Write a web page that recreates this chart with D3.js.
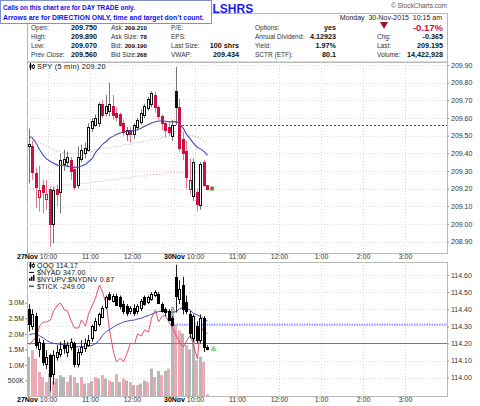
<!DOCTYPE html>
<html>
<head>
<meta charset="utf-8">
<script src="https://cdn.jsdelivr.net/npm/d3@7"></script>
<style>
body { margin: 0; background: #fff; }
svg text { font-family: "Liberation Sans", Arial, sans-serif; }
</style>
</head>
<body>
<div id="chart"></div>
<script>
// 5 min bars: 27Nov (half day, 42 bars) + 30Nov up to 10:15 (10 bars), 120 slots on the axis
var spyOpen  = [209.44,209.44,209.29,209.15,209.22,209.14,209.20,209.00,209.20,209.18,209.34,209.35,209.36,209.31,209.22,209.37,209.40,209.42,209.54,209.56,209.57,209.68,209.63,209.64,209.67,209.63,209.62,209.57,209.51,209.53,209.51,209.55,209.58,209.62,209.66,209.68,209.73,209.66,209.61,209.57,209.55,209.50,
                209.75,209.66,209.48,209.41,209.20,209.16,209.18,209.11,209.35,209.22];
var spyHigh  = [209.54,209.47,209.32,209.33,209.25,209.25,209.21,209.21,209.22,209.40,209.42,209.41,209.38,209.33,209.44,209.45,209.46,209.57,209.60,209.62,209.69,209.70,209.73,209.80,209.73,209.66,209.63,209.59,209.55,209.55,209.57,209.60,209.65,209.68,209.72,209.75,209.75,209.67,209.62,209.58,209.57,209.59,
                209.89,209.71,209.52,209.47,209.37,209.37,209.20,209.35,209.36,209.22];
var spyLow   = [209.23,209.25,209.09,209.07,209.06,209.08,208.87,208.89,209.10,209.06,209.30,209.32,209.25,209.19,209.20,209.35,209.37,209.41,209.52,209.55,209.55,209.60,209.61,209.61,209.59,209.58,209.55,209.50,209.47,209.46,209.48,209.53,209.56,209.60,209.64,209.66,209.63,209.59,209.53,209.49,209.50,209.47,
                209.56,209.41,209.36,209.20,209.17,209.13,209.07,209.08,209.21,209.19];
var spyClose = [209.45,209.29,209.21,209.19,209.18,209.17,209.00,209.19,209.17,209.36,209.37,209.38,209.30,209.21,209.38,209.42,209.43,209.55,209.58,209.60,209.68,209.62,209.67,209.68,209.62,209.61,209.56,209.52,209.53,209.51,209.56,209.59,209.63,209.67,209.71,209.74,209.66,209.61,209.57,209.53,209.52,209.56,
                209.66,209.43,209.40,209.26,209.25,209.35,209.11,209.34,209.22,209.20];
var spyMA    = [209.497,209.486,209.454,209.421,209.386,209.368,209.353,209.343,209.333,209.331,209.329,209.327,209.322,209.319,209.322,209.328,209.337,209.352,209.372,209.405,209.430,209.450,209.468,209.485,209.497,209.508,209.515,209.522,209.525,209.528,209.530,209.533,209.543,209.553,209.563,209.572,209.579,209.583,209.583,209.581,209.578,209.578,
                209.579,209.565,209.540,209.507,209.480,209.456,209.433,209.425,209.408,209.388];
var spyMA2   = [209.49,209.48,209.47,209.46,209.45,209.44,209.43,209.42,209.41,209.41,209.40,209.40,209.40,209.40,209.40,209.40,209.40,209.41,209.41,209.42,209.42,209.43,209.43,209.43,209.44,209.44,209.44,209.45,209.45,209.45,209.46,209.46,209.46,209.47,209.47,209.48,209.48,209.48,209.49,209.49,209.50,209.50,
                209.53,209.53,209.52,209.51,209.50,209.50,209.49,209.48,209.47,209.46];
var spyMA3   = [209.20,209.20,209.20,209.20,209.21,209.21,209.21,209.21,209.21,209.22,209.22,209.22,209.22,209.22,209.23,209.23,209.23,209.23,209.24,209.24,209.24,209.24,209.25,209.25,209.25,209.25,209.26,209.26,209.26,209.26,209.27,209.27,209.27,209.27,209.28,209.28,209.28,209.28,209.28,209.29,209.29,209.29,
                209.29,209.29,209.29,209.29,209.29,209.29,209.29,209.29,209.29,209.29];
var spyPrevClose = 209.56;

var qqqOpen  = [114.40,114.30,114.36,114.17,114.20,114.08,114.13,114.02,114.12,114.14,114.19,114.15,114.18,114.20,114.08,114.15,114.17,114.19,114.23,114.28,114.31,114.36,114.41,114.49,114.45,114.48,114.47,114.43,114.42,114.39,114.41,114.39,114.41,114.47,114.44,114.46,114.48,114.49,114.43,114.40,114.39,114.35,
                114.59,114.46,114.54,114.44,114.37,114.23,114.30,114.22,114.35,114.18];
var qqqHigh  = [114.43,114.40,114.38,114.23,114.22,114.16,114.14,114.16,114.19,114.21,114.22,114.21,114.23,114.21,114.17,114.22,114.23,114.25,114.31,114.35,114.38,114.42,114.48,114.50,114.49,114.49,114.48,114.45,114.43,114.42,114.43,114.43,114.46,114.48,114.48,114.50,114.51,114.50,114.44,114.41,114.40,114.36,
                114.66,114.57,114.59,114.48,114.39,114.37,114.33,114.37,114.36,114.19];
var qqqLow   = [114.27,114.28,114.17,114.12,114.07,114.05,113.92,113.96,114.10,114.12,114.14,114.12,114.16,114.06,114.06,114.13,114.15,114.18,114.21,114.27,114.30,114.35,114.40,114.45,114.44,114.42,114.40,114.37,114.36,114.37,114.36,114.37,114.39,114.42,114.43,114.45,114.47,114.43,114.38,114.36,114.33,114.30,
                114.38,114.43,114.37,114.37,114.23,114.21,114.20,114.20,114.15,114.16];
var qqqClose = [114.31,114.37,114.19,114.21,114.09,114.12,114.01,114.13,114.15,114.17,114.17,114.19,114.21,114.08,114.15,114.18,114.20,114.22,114.30,114.33,114.37,114.41,114.47,114.46,114.48,114.43,114.42,114.39,114.38,114.41,114.38,114.42,114.45,114.43,114.47,114.49,114.50,114.44,114.39,114.38,114.34,114.31,
                114.48,114.52,114.40,114.39,114.26,114.36,114.22,114.35,114.18,114.17];
var qqqMA    = [114.250,114.257,114.255,114.245,114.232,114.218,114.206,114.201,114.197,114.195,114.192,114.191,114.187,114.181,114.181,114.181,114.181,114.185,114.189,114.199,114.220,114.248,114.271,114.280,114.296,114.307,114.317,114.325,114.331,114.334,114.337,114.343,114.348,114.356,114.363,114.371,114.380,114.387,114.389,114.387,114.385,114.382,
                114.387,114.403,114.410,114.404,114.394,114.376,114.366,114.356,114.342,114.331];
var qqqPrevClose = 114.31;
var qqqLevel = 114.20;

var volume   = [1.26,1.47,1.20,0.77,0.61,0.45,0.72,0.45,0.56,0.67,0.61,0.45,0.67,0.61,0.42,0.61,0.40,0.42,0.48,0.61,0.56,0.67,0.56,0.50,0.45,0.70,0.45,0.56,0.50,0.45,0.35,0.35,0.40,0.50,0.45,0.88,0.61,0.81,0.67,0.81,0.88,2.87,
                2.28,2.10,2.01,1.64,1.50,2.55,1.15,1.26,1.10,0.05];
var volSide  = ['u','d','d','d','d','d','u','d','u','u','u','d','u','d','u','d','u','d','u','d','u','d','u','d','u','d','u','d','u','d','u','d','u','u','d','u','d','u','d','u','d','u',
                'd','d','u','d','u','u','d','u','d','d'];
var tick     = [-453,-385,-317,-130,-62,-62,-28,125,226,260,142,125,-62,-164,-164,-28,-130,74,226,345,566,447,226,-198,-572,-741,-673,-741,-572,-419,-436,-266,-300,-198,-232,6,142,-62,40,40,-79,-164,
                -300,-402,-487,-385,-283,-470,-690,-113,-266,-249];

var timeSlots  = [0, 6, 18, 30, 42, 48, 60, 72, 84, 96, 108];
var timeLabels = ['27Nov','10:00','11:00','12:00','30Nov','10:00','11:00','12:00','1:00','2:00','3:00'];
var spyTicks = [208.9, 209.0, 209.1, 209.2, 209.3, 209.4, 209.5, 209.6, 209.7, 209.8, 209.9];
var qqqTicks = [114.0, 114.1, 114.2, 114.3, 114.4, 114.5, 114.6];
var volTicks = [0.5, 1.0, 1.5, 2.0, 2.5, 3.0];
var volTickLabels = ['500K','1.0M','1.5M','2.0M','2.5M','3.0M'];

var quoteRows = [
  [['Open:','209.750'],['Ask:','209.210'],['P/E:',''],['Options:','yes'],['','-0.17%']],
  [['High:','209.890'],['Ask Size:','78'],['EPS:',''],['Annual Dividend:','4.12923'],['Chg:','-0.365']],
  [['Low:','209.070'],['Bid:','209.190'],['Last Size:','100 shrs'],['Yield:','1.97%'],['Last:','209.195']],
  [['Prev Close:','209.560'],['Bid Size:','268'],['VWAP:','209.434'],['SCTR (ETF):','80.1'],['Volume:','14,422,928']]
];

var width = 480, height = 406;
var left = 27, right = 447;
var upTop = 62, upBot = 253, loTop = 262, loBot = 396;

var svg = d3.select('#chart').append('svg')
    .attr('width', width)
    .attr('height', height)
    .style('display', 'block');

var nBars = spyClose.length;
var x = d3.scaleBand().domain(d3.range(120)).range([left, right]).paddingInner(0.2).paddingOuter(0.1);
var xEdge = d3.scaleLinear().domain([0, 120]).range([left, right]);
var cx = function(i) { return Math.round(x(i) + x.bandwidth() / 2); };

var spyY = d3.scaleLinear().domain([208.835, 209.917]).range([upBot, upTop]);
var qqqY = d3.scaleLinear().domain([113.893, 114.676]).range([loBot, loTop]);
var volY = d3.scaleLinear().domain([0, 4.31]).range([loBot, loTop]);
var tickY = d3.scaleLinear().domain([-1000, 1000]).range([377.2, 259.4]);

var red = '#cc1040', gridCol = '#d8d8d8', frameCol = '#b8b8b8';

// ---------- header ----------
svg.append('rect').attr('x', left + 0.5).attr('y', 13.5).attr('width', right - left).attr('height', upTop - 13.5)
    .attr('fill', '#fff').attr('stroke', frameCol);

svg.append('text').attr('x', 212.5).attr('y', 13).text('LSHRS')
    .style('font-size', '12px').style('font-weight', 'bold').attr('fill', '#1a1aee');

svg.append('text').attr('x', right).attr('y', 8).attr('text-anchor', 'end').text('\u00a9 StockCharts.com')
    .style('font-size', '6.5px').attr('fill', '#555');

svg.append('text').attr('x', 442).attr('y', 19.5).attr('text-anchor', 'end')
    .text('Monday  30-Nov-2015  10:15 am').style('font-size', '7px').attr('fill', '#222')
    .attr('xml:space', 'preserve');

var colLabelX = [31, 111, 171, 255, 377];
var colValueX = [97, 147, 239, 336, 443];
var colValueSize = [7.2, 6.2, 7.2, 7.2, 7.2];
quoteRows.forEach(function(row, r) {
    var by = 29.5 + r * 9.3;
    row.forEach(function(cell, c) {
        svg.append('text').attr('x', colLabelX[c]).attr('y', by).text(cell[0])
            .style('font-size', '6.5px').attr('fill', '#333');
        var isPct = r === 0 && c === 4;
        svg.append('text').attr('x', colValueX[c]).attr('y', by + (isPct ? 1 : 0)).attr('text-anchor', 'end').text(cell[1])
            .style('font-size', (isPct ? 9.5 : colValueSize[c]) + 'px').style('font-weight', 'bold')
            .attr('fill', isPct ? red : '#111');
    });
});
svg.append('path').attr('d', 'M380,22 L388,22 L384,29 Z').attr('fill', '#a01030');

// callout box
svg.append('rect').attr('x', 0.5).attr('y', 0.5).attr('width', 211).attr('height', 23)
    .attr('fill', '#fff').attr('stroke', '#8090c8');
svg.append('text').attr('x', 3).attr('y', 9.5).text('Calls on this chart are for DAY TRADE only.')
    .attr('textLength', 132).attr('lengthAdjust', 'spacingAndGlyphs')
    .style('font-size', '7.6px').style('font-weight', 'bold').attr('fill', '#1010e8');
svg.append('text').attr('x', 3).attr('y', 19.5).text('Arrows are for DIRECTION ONLY, time and target don\u2019t count.')
    .attr('textLength', 201).attr('lengthAdjust', 'spacingAndGlyphs')
    .style('font-size', '7.6px').style('font-weight', 'bold').attr('fill', '#1010e8');

// ---------- panels ----------
function panel(top, bot) {
    var g = svg.append('g');
    g.append('rect').attr('x', left + 0.5).attr('y', top + 0.5).attr('width', right - left).attr('height', bot - top)
        .attr('fill', '#fff').attr('stroke', frameCol);
    return g;
}
var up = panel(upTop, upBot);
var lo = panel(loTop, loBot);

function vGrid(g, top, bot) {
    g.selectAll('line.vg').data(timeSlots.slice(1)).join('line').attr('class', 'vg')
        .attr('x1', function(d) { return Math.round(xEdge(d)) + 0.5; })
        .attr('x2', function(d) { return Math.round(xEdge(d)) + 0.5; })
        .attr('y1', top).attr('y2', bot)
        .attr('stroke', gridCol).attr('stroke-dasharray', '1,2');
}
function hGrid(g, ticks, y) {
    g.selectAll('line.hg').data(ticks).join('line').attr('class', 'hg')
        .attr('x1', left).attr('x2', right)
        .attr('y1', function(d) { return Math.round(y(d)) + 0.5; })
        .attr('y2', function(d) { return Math.round(y(d)) + 0.5; })
        .attr('stroke', gridCol).attr('stroke-dasharray', '1,2');
}
vGrid(up, upTop, upBot); hGrid(up, spyTicks, spyY);
vGrid(lo, loTop, loBot); hGrid(lo, qqqTicks, qqqY);

function bars(open, high, low, close) {
    return close.map(function(c, i) {
        return { i: i, o: open[i], h: high[i], l: low[i], c: c, pc: i ? close[i - 1] : open[i] };
    });
}
function candles(g, data, y, colorOf, wickOf) {
    g.append('g').selectAll('line').data(data).join('line')
        .attr('x1', function(d) { return cx(d.i) + 0.5; })
        .attr('x2', function(d) { return cx(d.i) + 0.5; })
        .attr('y1', function(d) { return y(d.h); })
        .attr('y2', function(d) { return y(d.l); })
        .attr('stroke', wickOf);
    g.append('g').selectAll('rect').data(data).join('rect')
        .attr('x', function(d) { return cx(d.i) - 0.5; })
        .attr('width', 2)
        .attr('y', function(d) { return Math.round(y(Math.max(d.o, d.c))) + 0.5; })
        .attr('height', function(d) { return Math.max(1, Math.round(Math.abs(y(d.o) - y(d.c)))); })
        .attr('fill', function(d) { return d.c < d.o ? colorOf(d) : '#fff'; })
        .attr('stroke', colorOf);
}
function lineOf(values, y) {
    return d3.line().x(function(d, i) { return cx(i) + 0.5; }).y(function(d) { return y(d); })(values);
}

// ---------- SPY panel ----------
up.append('path').attr('d', lineOf(spyMA2, spyY)).attr('fill', 'none')
    .attr('stroke', '#b9ccb9').attr('stroke-dasharray', '1.5,1.5');
up.append('path').attr('d', lineOf(spyMA3, spyY)).attr('fill', 'none')
    .attr('stroke', '#e8b4e8').attr('stroke-dasharray', '1.5,1.5');
up.append('line').attr('x1', xEdge(42)).attr('x2', right)
    .attr('y1', Math.round(spyY(spyPrevClose)) + 0.5).attr('y2', Math.round(spyY(spyPrevClose)) + 0.5)
    .attr('stroke', '#2a2aff').attr('stroke-dasharray', '2,2');

var spy = bars(spyOpen, spyHigh, spyLow, spyClose);
candles(up, spy, spyY,
    function(d) { return d.c < d.pc ? red : '#111'; },
    function(d) { return d.c < d.pc ? '#e07890' : '#777'; });
up.append('path').attr('d', lineOf(spyMA, spyY)).attr('fill', 'none')
    .attr('stroke', '#4848b0').attr('stroke-width', 1.1);
up.append('rect').attr('x', cx(nBars - 1) + 3).attr('y', spyY(spyClose[nBars - 1]) - 2)
    .attr('width', 4).attr('height', 4).attr('fill', '#d23040').attr('stroke', '#9be09b');

// legend
function candleIcon(g, lx, ly) {
    g.append('line').attr('x1', lx + 1.5).attr('x2', lx + 1.5).attr('y1', ly - 6).attr('y2', ly + 1).attr('stroke', '#000');
    g.append('rect').attr('x', lx + 0.5).attr('y', ly - 4.5).attr('width', 2).attr('height', 3.5).attr('fill', '#000');
    g.append('line').attr('x1', lx + 4.5).attr('x2', lx + 4.5).attr('y1', ly - 5).attr('y2', ly).attr('stroke', '#000');
    g.append('rect').attr('x', lx + 3.5).attr('y', ly - 3.5).attr('width', 2).attr('height', 2.5).attr('fill', '#fff').attr('stroke', '#000').attr('stroke-width', 0.7);
}
candleIcon(up, 29, 69);
up.append('text').attr('x', 37).attr('y', 69).text('SPY (5 min) 209.20')
    .style('font-size', '7.3px').attr('fill', '#111').style('letter-spacing', '0.3px');

// ---------- QQQ panel ----------
lo.append('g').selectAll('rect').data(volume).join('rect')
    .attr('x', function(d, i) { return Math.round(x(i)); })
    .attr('width', 3)
    .attr('y', function(d) { return volY(d); })
    .attr('height', function(d) { return loBot - volY(d); })
    .attr('fill', function(d, i) { return volSide[i] === 'u' ? '#b6b6b6' : '#ecaab4'; });

lo.append('line').attr('x1', left).attr('x2', right)
    .attr('y1', Math.round(qqqY(qqqLevel)) + 0.5).attr('y2', Math.round(qqqY(qqqLevel)) + 0.5)
    .attr('stroke', '#33aa33').attr('stroke-width', 1);
lo.append('line').attr('x1', xEdge(42)).attr('x2', right)
    .attr('y1', qqqY(qqqPrevClose)).attr('y2', qqqY(qqqPrevClose))
    .attr('stroke', '#8c8cff').attr('stroke-width', 1.6).attr('stroke-dasharray', '1.5,1');

lo.append('path').attr('d', lineOf(tick, tickY)).attr('fill', 'none')
    .attr('stroke', '#e2506a').attr('stroke-width', 1);
lo.append('path').attr('d', lineOf(qqqMA, qqqY)).attr('fill', 'none')
    .attr('stroke', '#4848b8').attr('stroke-width', 1);

var qqq = bars(qqqOpen, qqqHigh, qqqLow, qqqClose);
candles(lo, qqq, qqqY,
    function(d) { return '#000'; },
    function(d) { return '#222'; });
lo.append('path')
    .attr('d', 'M' + (cx(nBars - 1) + 4) + ',' + (qqqY(qqqClose[nBars - 1]) + 2) + ' l2.5,-4.5 l2.5,4.5 Z')
    .attr('fill', '#9be09b').attr('stroke', '#5cb85c').attr('stroke-width', 0.6);

// legend
candleIcon(lo, 29, 268);
var legendRows = [['QQQ 114.17', 'candle'], ['$NYAD 347.00', 'line'], ['$NYUPV:$NYDNV 0.87', 'hist'], ['$TICK -249.00', 'line']];
legendRows.forEach(function(r, k) {
    var by = 268 + k * 6.9;
    if (r[1] === 'line') {
        lo.append('line').attr('x1', 29).attr('x2', 34).attr('y1', by - 2.5).attr('y2', by - 2.5).attr('stroke', '#000');
    } else if (r[1] === 'hist') {
        [0, 2, 4].forEach(function(o, j) {
            lo.append('rect').attr('x', 29 + o).attr('y', by - 2 - (j + 1) * 1.6).attr('width', 1.5)
                .attr('height', (j + 1) * 1.6 + 1).attr('fill', '#000');
        });
    }
    lo.append('text').attr('x', 37).attr('y', by).text(r[0])
        .style('font-size', '7px').attr('fill', '#111').style('letter-spacing', '0.2px');
});

// ---------- axes ----------
function styleAxis(g) {
    g.select('.domain').remove();
    g.selectAll('text').style('font-size', '7px').attr('fill', '#333');
    g.selectAll('line').attr('stroke', '#999');
}
svg.append('g').attr('transform', 'translate(' + right + ',0)')
    .call(d3.axisRight(spyY).tickValues(spyTicks).tickFormat(d3.format('.2f')).tickSize(2).tickPadding(2))
    .call(styleAxis);
svg.append('g').attr('transform', 'translate(' + right + ',0)')
    .call(d3.axisRight(qqqY).tickValues(qqqTicks).tickFormat(d3.format('.2f')).tickSize(2).tickPadding(2))
    .call(styleAxis);
svg.append('g').attr('transform', 'translate(' + left + ',0)')
    .call(d3.axisLeft(volY).tickValues(volTicks).tickFormat(function(d, k) { return volTickLabels[k]; }).tickSize(2).tickPadding(1))
    .call(styleAxis);

function timeAxis(yPos) {
    svg.append('g').attr('transform', 'translate(0,' + yPos + ')')
        .call(d3.axisBottom(xEdge).tickValues(timeSlots).tickFormat(function(d, k) { return timeLabels[k]; }).tickSize(0).tickPadding(0))
        .call(styleAxis)
        .selectAll('text')
        .attr('dy', '0.71em')
        .style('font-weight', function(d, k) { return timeLabels[k].indexOf('Nov') > 0 ? 'bold' : 'normal'; })
        .attr('fill', function(d, k) { return timeLabels[k].indexOf('Nov') > 0 ? '#000' : '#333'; });
}
timeAxis(upBot + 1.5);
timeAxis(loBot + 1.5);
</script>
</body>
</html>
